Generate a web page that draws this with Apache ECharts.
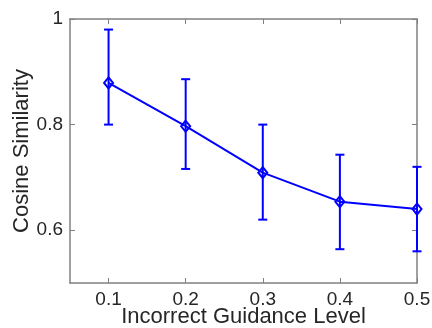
<!DOCTYPE html>
<html>
<head>
<meta charset="utf-8">
<script src="https://cdn.jsdelivr.net/npm/echarts@6/dist/echarts.min.js"></script>
<style>
    html, body { margin: 0; padding: 0; background: #fff; }
    #chart { width: 432px; height: 328px; }
</style>
</head>
<body>
<div id="chart"></div>
<script>
// guidance level on x, mean similarity with error bar ends
const levels = [0.1, 0.2, 0.3, 0.4, 0.5];
const means = [0.879, 0.797, 0.709, 0.654, 0.640];
const lowers = [0.800, 0.716, 0.620, 0.564, 0.560];
const uppers = [0.980, 0.886, 0.800, 0.743, 0.720];
const xTicks = [0.1, 0.2, 0.3, 0.4, 0.5];
const yTicks = [0.6, 0.8, 1];

const font = "'Liberation Sans', Arial, Helvetica, sans-serif";
const textColor = '#262626';
const boxColor = '#808080';
const blue = '#0000ff';

function makeAxis(pos, min, max, ticks, showLabel) {
    return {
        type: 'value',
        position: pos,
        min: min,
        max: max,
        nameMoveOverlap: false,
        splitLine: { show: false },
        axisLine: { show: true, onZero: false, lineStyle: { color: boxColor, width: 1.5 } },
        axisTick: { show: true, inside: true, length: 5, customValues: ticks, lineStyle: { color: boxColor, width: 1 } },
        axisLabel: {
            show: showLabel,
            customValues: ticks,
            color: textColor,
            fontFamily: font,
            fontSize: 19,
            margin: 7,
            formatter: v => String(v)
        }
    };
}

const chart = echarts.init(document.getElementById('chart'));

const xBottom = makeAxis('bottom', 0.05, 0.5, xTicks, true);
xBottom.name = 'Incorrect Guidance Level';
xBottom.nameLocation = 'middle';
xBottom.nameGap = 23;
xBottom.nameTextStyle = { color: textColor, fontFamily: font, fontSize: 22 };

const yLeft = makeAxis('left', 0.5, 1, yTicks, true);
yLeft.name = 'Cosine Similarity';
yLeft.nameLocation = 'middle';
yLeft.nameGap = 37;
yLeft.nameTextStyle = { color: textColor, fontFamily: font, fontSize: 22 };

chart.setOption({
    animation: false,
    grid: { left: 70, right: 15, top: 19, bottom: 45, containLabel: false, outerBoundsMode: 'none' },
    xAxis: [xBottom, makeAxis('top', 0.05, 0.5, xTicks, false)],
    yAxis: [yLeft, makeAxis('right', 0.5, 1, yTicks, false)],
    series: [
        {
            type: 'custom',
            data: levels.map((x, i) => [x, lowers[i], uppers[i]]),
            renderItem: function (params, api) {
                const x = api.value(0);
                const lo = api.coord([x, api.value(1)]);
                const hi = api.coord([x, api.value(2)]);
                const half = 4.5;
                const style = { stroke: blue, lineWidth: 2, fill: null };
                return {
                    type: 'group',
                    children: [
                        { type: 'line', shape: { x1: lo[0], y1: lo[1], x2: hi[0], y2: hi[1] }, style: style },
                        { type: 'line', shape: { x1: lo[0] - half, y1: lo[1], x2: lo[0] + half, y2: lo[1] }, style: style },
                        { type: 'line', shape: { x1: hi[0] - half, y1: hi[1], x2: hi[0] + half, y2: hi[1] }, style: style }
                    ]
                };
            },
            z: 2
        },
        {
            type: 'line',
            data: levels.map((x, i) => [x, means[i]]),
            symbol: 'diamond',
            symbolSize: [9, 11],
            showAllSymbol: true,
            lineStyle: { color: blue, width: 2 },
            itemStyle: { color: 'rgba(0,0,0,0)', borderColor: blue, borderWidth: 2 },
            z: 3
        }
    ]
});
</script>
</body>
</html>
